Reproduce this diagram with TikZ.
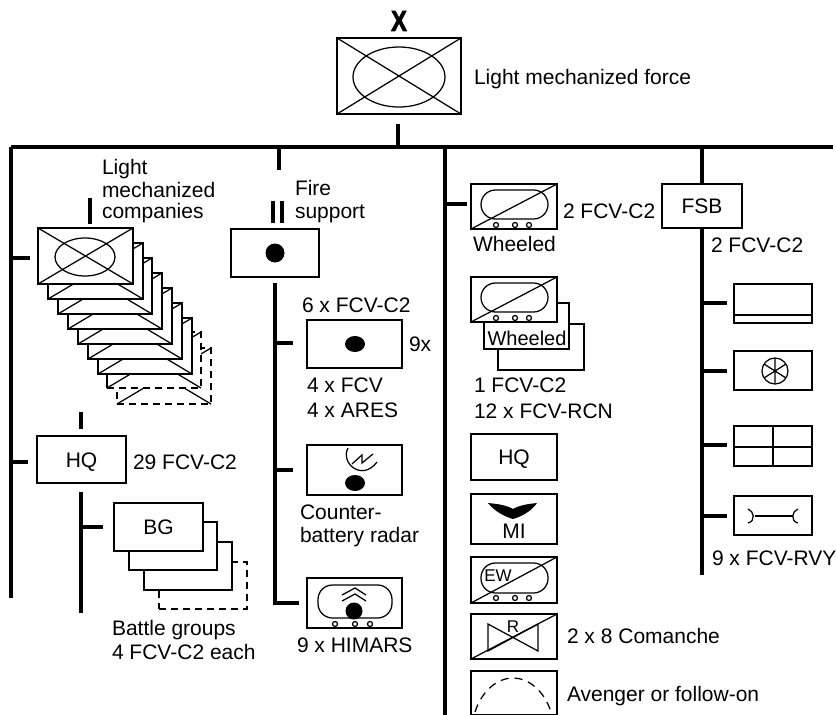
\documentclass[tikz,border=0pt]{standalone}
\usepackage{fontspec}
\setmainfont{Liberation Sans}
\newfontfamily\xfont[BoldFeatures={FakeBold=2.5}]{Liberation Sans}
\newcommand{\ubox}[6][]{\node[unit,#1,minimum width=#5pt,minimum height=#6pt,anchor=north west] (#2) at (#3,#4) {};}
\newcommand{\xbox}[6][]{\ubox[#1]{#2}{#3}{#4}{#5}{#6}\draw[thinl] (#2.north west)--(#2.south east) (#2.south west)--(#2.north east);}
\newcommand{\trackat}[4]{\draw[thinl,rounded corners=14.5pt] (#1,#2) rectangle (#3,#4);}
\newcommand{\wheels}[4]{\foreach \wx in {#2,#3,#4}{\draw[thinl] (\wx,#1) circle [radius=2.5pt];}}
\tikzset{
  x=1pt,y=-1pt,
  unit/.style={draw=black,fill=white,line width=1.5pt,inner sep=0pt,outer sep=0pt},
  thinl/.style={line width=1.25pt,draw=black},
  bus/.style={line width=4pt,draw=black},
  dashb/.style={dash pattern=on 7pt off 5pt},
  lbl/.style={font=\fontsize{21}{25}\selectfont,inner sep=0pt,outer sep=0pt,anchor=west,text height=15pt,text depth=0pt},
  lblc/.style={lbl,anchor=center},
  small/.style={font=\fontsize{17}{20}\selectfont,inner sep=0pt,anchor=center,text height=12pt,text depth=0pt},
}
\begin{document}
\begin{tikzpicture}
\useasboundingbox (0,0) rectangle (836,715);
% main bus
\coordinate (busL) at (11,147);
\coordinate (busR) at (833,147);
\coordinate (busTop) at (398,147);
\coordinate (busFire) at (279,147);
\coordinate (busC) at (445,147);
\coordinate (busF) at (702,147);
\draw[bus] (busL)--(busR);
% top
\ubox{top}{337}{38}{124}{76}
\draw[thinl] (399,77) ellipse [x radius=46pt,y radius=30pt];
\draw[thinl] (top.north west)--(top.south east) (top.south west)--(top.north east);
\node[font=\fontsize{29}{29}\selectfont\xfont\bfseries,inner sep=0pt,xscale=.82] (xmark) at (399,21) {X};
\coordinate (topstub) at (398,124);
\draw[bus] (topstub)--(busTop);
\node[lbl] (t1) at (474,77) {Light mechanized force};
% left trunk
\coordinate (leftEnd) at (11,598);
\draw[bus] (busL)--(leftEnd);
\coordinate (lj1) at (11,258);
\coordinate (lj1e) at (30,258);
\draw[bus] (lj1)--(lj1e);
\coordinate (lj2) at (11,462);
\coordinate (lj2e) at (28,462);
\draw[bus] (lj2)--(lj2e);
% stack of companies
\xbox[dashb]{s9}{117}{348}{94}{56}
\xbox[dashb]{s8}{107}{332}{94}{56}
\draw[thinl] (s8.north west)--(s8.south west);
\xbox{s7}{98}{318}{94}{56}
\xbox{s6}{88}{303}{94}{56}
\xbox{s5}{78}{288}{94}{56}
\xbox{s4}{68}{273}{94}{56}
\xbox{s3}{58}{258}{94}{56}
\xbox{s2}{48}{243}{95}{56}
\ubox{s1}{38}{228}{95}{56}
\draw[thinl] (85,257) ellipse [x radius=30pt,y radius=19pt];
\draw[thinl] (s1.north west)--(s1.south east) (s1.south west)--(s1.north east);
\coordinate (c1a) at (90,198);
\coordinate (c1b) at (90,224);
\draw[bus] (c1a)--(c1b);
\node[lbl] (t2) at (102,167) {Light};
\node[lbl] (t3) at (102,190) {mechanized};
\node[lbl] (t4) at (102,211) {companies};
% HQ left
\coordinate (hqa) at (81,412);
\coordinate (hqb) at (81,429);
\draw[bus] (hqa)--(hqb);
\ubox{hq}{37}{436}{89}{47}
\node[lblc] (hqt) at (hq.center) {HQ};
\node[lbl] (t5) at (133,462) {29 FCV-C2};
\coordinate (ht1) at (81,492);
\coordinate (ht2) at (81,613);
\draw[bus] (ht1)--(ht2);
\coordinate (hj) at (81,527);
\coordinate (hje) at (103,527);
\draw[bus] (hj)--(hje);
\ubox[dashb]{bg4}{159}{562}{88}{47}
\ubox{bg3}{144}{542}{88}{48}
\ubox{bg2}{129}{522}{88}{48}
\ubox{bg}{114}{503}{89}{48}
\node[lblc] (bgt) at (bg.center) {BG};
\node[lbl] (t6) at (112,628) {Battle groups};
\node[lbl] (t7) at (112,652) {4 FCV-C2 each};
% fire support
\coordinate (fs1) at (279,170);
\draw[bus] (busFire)--(fs1);
\coordinate (f2a) at (273,201);
\coordinate (f2b) at (273,223);
\coordinate (f3a) at (282,201);
\coordinate (f3b) at (282,223);
\draw[bus] (f2a)--(f2b) (f3a)--(f3b);
\node[lbl] (t8) at (295,188) {Fire};
\node[lbl] (t9) at (295,211) {support};
\ubox{fb}{231}{229}{88}{48}
\fill (275,253) circle [radius=9.5pt];
\coordinate (ft1) at (275,283);
\coordinate (ft2) at (275,603);
\coordinate (fj1) at (275,343);
\coordinate (fj1e) at (293,343);
\coordinate (fj2) at (275,470);
\coordinate (fj2e) at (293,470);
\coordinate (fj3e) at (297,603);
\draw[bus] (ft1)--(ft2) (fj1)--(fj1e) (fj2)--(fj2e);
\draw[bus,line cap=rect] (ft2)--(fj3e);
\node[lbl] (t10) at (302,305) {6 x FCV-C2};
\ubox{fa}{307}{320}{95}{48}
\fill (355,344) ellipse [x radius=10pt,y radius=8pt];
\node[lbl] (t11) at (409,344) {9x};
\node[lbl] (t12) at (307,385) {4 x FCV};
\node[lbl] (t13) at (307,410) {4 x ARES};
\ubox{fr}{307}{445}{95}{50}
\fill (355,483) ellipse [x radius=10pt,y radius=8pt];
\draw[thinl] (348,448) .. controls (340,463) and (362,482) .. (377,462);
\draw[thinl] (352,464)--(362,455)--(362,463)--(373,454);
\node[lbl] (t14) at (300,512) {Counter-};
\node[lbl] (t15) at (300,535) {battery radar};
\ubox{fh}{307}{578}{95}{50}
\trackat{318}{585}{392}{618}
\wheels{624}{335}{355}{370}
\fill (354,611) circle [radius=8.5pt];
\draw[thinl] (342,595)--(355,588)--(366,595) (342,601)--(355,594)--(366,601);
\node[lbl] (t16) at (297,645) {9 x HIMARS};
% centre trunk
\coordinate (cEnd) at (445,715);
\draw[bus] (busC)--(cEnd);
\coordinate (cj) at (445,204);
\coordinate (cje) at (467,204);
\draw[bus] (cj)--(cje);
\ubox{wa}{471}{184}{86}{45}
\trackat{481}{190}{548}{219}
\wheels{225}{496}{515}{529}
\draw[thinl] (wa.south west)--(wa.north east);
\node[lbl] (t17) at (473,244) {Wheeled};
\node[lbl] (t18) at (563,211) {2 FCV-C2};
\ubox{wd}{498}{324}{86}{46}
\ubox{wc}{484}{303}{85}{46}
\ubox{wb}{471}{277}{86}{45}
\trackat{481}{283}{548}{312}
\wheels{318}{496}{515}{529}
\draw[thinl] (wb.south west)--(wb.north east);
\node[lblc,font=\fontsize{20}{24}\selectfont] (t19) at (527,338) {Wheeled};
\node[lbl] (t20) at (474,385) {1 FCV-C2};
\node[lbl] (t21) at (474,411) {12 x FCV-RCN};
\ubox{chq}{471}{434}{86}{46}
\node[lblc] (chqt) at (chq.center) {HQ};
\ubox{mi}{471}{494}{86}{50}
\fill (488,503) .. controls (498,504) and (506,505) .. (513,509) .. controls (520,505) and (528,504) .. (537,503) .. controls (531,512) and (520,517) .. (513,519) .. controls (506,517) and (495,512) .. (488,503) -- cycle;
\node[lblc] (mit) at (514,531) {MI};
\ubox{ew}{471}{557}{86}{46}
\trackat{481}{563}{548}{593}
\wheels{598}{496}{515}{529}
\draw[thinl] (ew.south west)--(ew.north east);
\node[small] (ewt) at (498,575) {EW};
\ubox{rb}{471}{614}{86}{45}
\draw[thinl] (488,624)--(538,651)--(538,624)--(488,651)--cycle;
\draw[thinl] (rb.south west)--(rb.north east);
\node[small] (rt) at (513,626) {R};
\node[lbl] (t22) at (567,636) {2 x 8 Comanche};
\ubox{av}{471}{671}{86}{44}
\draw[thinl,dash pattern=on 8pt off 6pt] (475,712) .. controls (482,690) and (498,678) .. (513,678) .. controls (528,678) and (544,690) .. (551,712);
\node[lbl] (t23) at (567,694) {Avenger or follow-on};
% FSB trunk
\coordinate (fsEnd) at (702,575);
\draw[bus] (busF)--(fsEnd);
\ubox{fsb}{662}{184}{80}{44}
\node[lblc] (fsbt) at (fsb.center) {FSB};
\node[lbl] (t24) at (711,245) {2 FCV-C2};
\foreach \yy/\nn in {303/a,371/b,445/c,516/d}{
  \coordinate (rj\nn) at (702,\yy);
  \coordinate (re\nn) at (727,\yy);
  \draw[bus] (rj\nn)--(re\nn);
}
\ubox{r1}{734}{284}{78}{39}
\draw[thinl] (734,315)--(812,315);
\ubox{r2}{734}{351}{78}{39}
\draw[thinl] (775,371) circle [radius=13pt];
\draw[thinl] (775,358)--(775,384) (764,364)--(786,378) (764,378)--(786,364);
\ubox{r3}{734}{426}{78}{40}
\draw[thinl] (773,426)--(773,466) (734,447)--(812,447);
\ubox{r4}{734}{496}{78}{39}
\draw[thinl] (755,516)--(793,516);
\draw[thinl] (748,509) .. controls (754,511) and (756,521) .. (748,523);
\draw[thinl] (798,509) .. controls (792,511) and (790,521) .. (798,523);
\node[lbl] (t25) at (712,558) {9 x FCV-RVY};
\end{tikzpicture}
\end{document}
